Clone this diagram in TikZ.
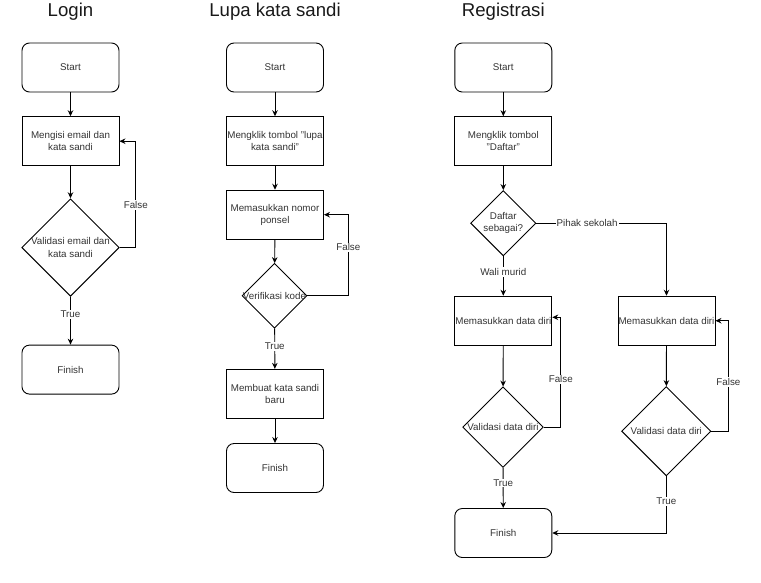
\documentclass[tikz,border=0pt]{standalone}
\usepackage{fontspec}
\setmainfont{Liberation Sans}
\usetikzlibrary{shapes.geometric,arrows.meta}
\definecolor{txt}{HTML}{333333}
\tikzset{
  every node/.style={font=\fontsize{9.8}{12.3}\selectfont, text=txt},
  box/.style={draw=black, line width=0.9pt, minimum width=97pt, minimum height=49pt, inner sep=0pt, align=center},
  term/.style={box, rounded corners=7.5pt},
  dia/.style={draw=black, line width=0.9pt, diamond, inner sep=0pt, minimum width=#1, minimum height=#1},
  dtxt/.style={align=center, inner sep=0pt},
  arr/.style={draw=black, line width=0.9pt, -{Stealth[length=6pt,width=5.5pt]}},
  lbl/.style={fill=white, inner sep=1pt},
  title/.style={font=\fontsize{18.6}{22}\selectfont, text=black!90, anchor=base, inner sep=0pt}
}
\begin{document}
\begin{tikzpicture}[x=1pt,y=-1pt]
\useasboundingbox (0,0) rectangle (761,582);
% titles
\node[title] (t1) at (70.5,16.7) {Login};
\node[title] (t2) at (275,16.7) {Lupa kata sandi};
\node[title] (t3) at (503.3,16.7) {Registrasi};

% Login
\node[term] (ls) at (70.5,67.5) {Start};
\node[box] (lb) at (70.5,141.2) {Mengisi email dan\\kata sandi};
\node[dia=97.6pt] (ld) at (70.5,247.5) {};
\node[dtxt] (ldt) at (ld.center) {Validasi email dan\\kata sandi};
\node[term] (lf) at (70.5,369.6) {Finish};
\draw[arr] (ls) -- (lb);
\draw[arr] (lb) -- (ld);
\draw[arr] (ld) -- node[lbl,pos=0.37]{True} (lf);
\draw[arr] (ld.east) -- ++(16,0) |- node[lbl,pos=0.2]{False} (lb.east);

% Lupa kata sandi
\node[term] (ps) at (275,67.5) {Start};
\node[box] (pb1) at (275,141.2) {Mengklik tombol "lupa\\kata sandi"};
\node[box] (pb2) at (275,214.7) {Memasukkan nomor\\ponsel};
\node[dia=64.8pt] (pd) at (274.5,295.8) {};
\node[dtxt] (pdt) at (pd.center) {Verifikasi kode};
\node[box] (pb3) at (275,393.8) {Membuat kata sandi\\baru};
\node[term] (pf) at (275,468) {Finish};
\draw[arr] (ps) -- (pb1);
\draw[arr] (pb1) -- (pb2);
\draw[arr] (pb2) -- (pd);
\draw[arr] (pd) -- node[lbl,pos=0.44]{True} (pb3);
\draw[arr] (pb3) -- (pf);
\draw[arr] (pd.east) -- ++(41,0) |- node[lbl,pos=0.3]{False} (pb2.east);

% Registrasi
\node[term] (rs) at (503.3,67.5) {Start};
\node[box] (rb1) at (503.3,141.2) {Mengklik tombol\\"Daftar"};
\node[dia=65.3pt] (rd) at (503.3,223.2) {};
\node[dtxt] (rdt) at (rd.center) {Daftar\\sebagai?};
\node[box] (rb2) at (503.3,320.7) {Memasukkan data diri};
\node[box] (rb3) at (666.5,320.7) {Memasukkan data diri};
\node[dia=80.6pt] (rd2) at (503,427.2) {};
\node[dtxt] (rd2t) at (rd2.center) {Validasi data diri};
\node[dia=89.3pt] (rd3) at (666.3,431.2) {};
\node[dtxt] (rd3t) at (rd3.center) {Validasi data diri};
\node[term] (rf) at (503.3,533) {Finish};
\draw[arr] (rs) -- (rb1);
\draw[arr] (rb1) -- (rd);
\draw[arr] (rd) -- node[lbl,pos=0.4]{Wali murid} (rb2);
\draw[arr] (rd.east) -| node[lbl,pos=0.195]{Pihak sekolah} (rb3.north);
\draw[arr] (rb2) -- (rd2);
\draw[arr] (rb3) -- (rd3);
\draw[arr] (rd2) -- node[lbl,pos=0.375]{True} (rf);
\draw[arr] (rd3.south) |- node[lbl,pos=0.22]{True} (rf.east);
\draw[arr] (rd2.east) -- ++(17,0) |- node[lbl,pos=0.218]{False} ([yshift=3.4pt]rb2.east);
\draw[arr] (rd3.east) -- ++(17,0) |- node[lbl,pos=0.223]{False} (rb3.east);
\end{tikzpicture}
\end{document}
